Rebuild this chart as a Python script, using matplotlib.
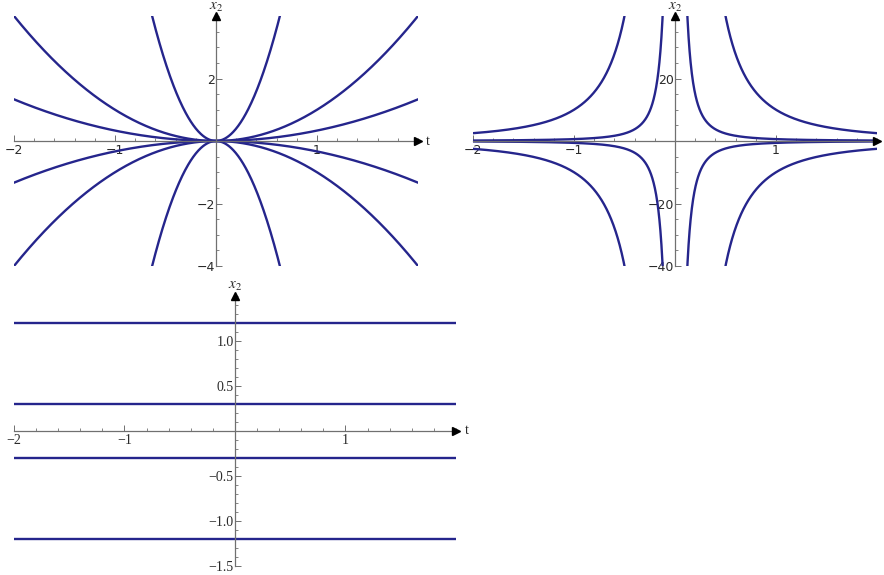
import numpy as np
import matplotlib
matplotlib.use("Agg")
import matplotlib.pyplot as plt
from matplotlib.ticker import FixedLocator, MultipleLocator

plt.rcParams["mathtext.fontset"] = "stix"

# parabolas x2 = c * t^2
para_coef = [10, 1, 1 / 3, -1 / 3, -1, -10]
# hyperbola-like curves x2 = c / t^2
inv_coef = [10, 0.6, -0.6, -10]
# constant solutions x2 = c
const_vals = [1.2, 0.3, -0.3, -1.2]

t_range = (-2, 2)
x_ticks = [-2, -1, 1]
tl_yticks = [-4, -2, 2]
tr_yticks = [-40, -20, 20]
b_yticks = [-1.5, -1.0, -0.5, 0.5, 1.0]
b_ylabels = ["\u22121.5", "\u22121.0", "\u22120.5", "0.5", "1.0"]

LINE = "#25258c"
AXC = "#707070"
W, H = 884, 575


def px_axes(fig, x0, y0, x1, y1):
    return fig.add_axes([x0 / W, 1 - y1 / H, (x1 - x0) / W, (y1 - y0) / H])


def style(ax, ylim, yticks, yminor, xminor=0.2, serif=False, ylabels=None):
    ax.set_xlim(*t_range)
    ax.set_ylim(*ylim)
    for s in ("top", "right"):
        ax.spines[s].set_visible(False)
    for s in ("left", "bottom"):
        ax.spines[s].set_position(("data", 0))
        ax.spines[s].set_color(AXC)
        ax.spines[s].set_linewidth(0.9)
    ax.xaxis.set_major_locator(FixedLocator(x_ticks))
    ax.xaxis.set_minor_locator(MultipleLocator(xminor))
    ax.yaxis.set_major_locator(FixedLocator(yticks))
    ax.yaxis.set_minor_locator(MultipleLocator(yminor))
    fam = "Liberation Serif" if serif else "DejaVu Sans"
    fs = 10 if serif else 9
    ax.set_xticklabels([f"{v:g}".replace("-", "\u2212") for v in x_ticks],
                       family=fam, fontsize=fs)
    if ylabels is None:
        ylabels = [f"{v:g}".replace("-", "\u2212") for v in yticks]
    ax.set_yticklabels(ylabels, family=fam, fontsize=fs)
    ax.tick_params(which="major", direction="in", length=4, width=0.7,
                   color=AXC, pad=2, labelcolor="#2a2a2a")
    ax.tick_params(which="minor", direction="in", length=2, width=0.6,
                   color=AXC)
    ax.tick_params(axis="y", pad=1)
    # arrowheads and axis names
    ax.plot(1, 0, ">", color="black", ms=6, transform=ax.get_yaxis_transform(),
            clip_on=False, zorder=5)
    ax.plot(0, 1, "^", color="black", ms=6, transform=ax.get_xaxis_transform(),
            clip_on=False, zorder=5)
    ax.text(1.02, 0, "t", transform=ax.get_yaxis_transform(), ha="left",
            va="center", family="Liberation Serif", fontsize=10, color="#2a2a2a")
    ax.text(0, 1.01, "$x_2$", transform=ax.get_xaxis_transform(), ha="center",
            va="bottom", fontsize=11, color="#2a2a2a")


fig = plt.figure(figsize=(W / 100, H / 100), dpi=100)

# top left: parabolas
ax1 = px_axes(fig, 14, 16, 418, 266)
t = np.linspace(-2, 2, 801)
for c in para_coef:
    ax1.plot(t, c * t ** 2, color=LINE, lw=1.7)
style(ax1, (-4, 4), tl_yticks, 0.5)

# top right: c / t^2, split at t = 0
ax2 = px_axes(fig, 473, 16, 877, 266)
tn = np.linspace(-2, -0.01, 800)
tp = np.linspace(0.01, 2, 800)
for c in inv_coef:
    ax2.plot(tn, c / tn ** 2, color=LINE, lw=1.7)
    ax2.plot(tp, c / tp ** 2, color=LINE, lw=1.7)
style(ax2, (-40, 40), tr_yticks, 5)

# bottom: constant solutions
ax3 = px_axes(fig, 14, 296, 456, 566)
for c in const_vals:
    ax3.plot(t_range, [c, c], color=LINE, lw=1.7)
style(ax3, (-1.5, 1.5), b_yticks, 0.1, serif=True, ylabels=b_ylabels)

fig.savefig("out.png", dpi=100)
